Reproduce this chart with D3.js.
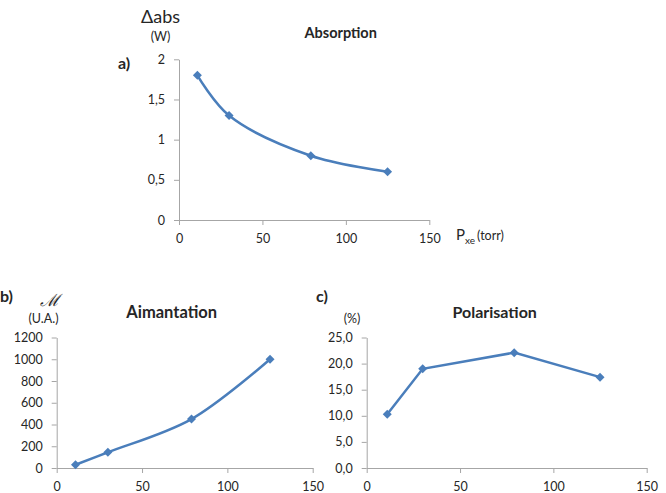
<!DOCTYPE html>
<html>
<head>
<meta charset="utf-8">
<script src="https://cdn.jsdelivr.net/npm/d3@7/dist/d3.min.js"></script>
<style>
  body { margin: 0; background: #fff; }
  text { font-family: Lato, "Open Sans", sans-serif; fill: #262626; }
</style>
</head>
<body>
<svg id="chart" width="666" height="493"></svg>
<script>
// pressure of xenon (torr)
var pressure = [11, 30, 79, 125];
var absorption = [1.8, 1.3, 0.8, 0.6];
var aimantation = [30, 145, 450, 1000];
var polarisation = [10.3, 19.0, 22.1, 17.4];

var xTicks = [0, 50, 100, 150];
var absTicks = [0, 0.5, 1, 1.5, 2];
var aimTicks = [0, 200, 400, 600, 800, 1000, 1200];
var polTicks = [0, 5, 10, 15, 20, 25];

var blue = "#4a7ebb";
var axisColor = "#a6a6a6";

var svg = d3.select("#chart");
svg.append("rect").attr("width", 666).attr("height", 493).attr("fill", "#fff");

function comma(v) { return String(v).replace(".", ","); }
function comma1(v) { return v.toFixed(1).replace(".", ","); }

function draw_panel(opt)
{
    var g = svg.append("g");

    var x = d3.scaleLinear().domain([0, 150]).range([opt.left, opt.right]);
    var y = d3.scaleLinear().domain(opt.ydomain).range([opt.bottom, opt.top]);

    var xa = g.append("g")
        .attr("transform", "translate(0," + opt.bottom + ")")
        .call(d3.axisBottom(x).tickValues(xTicks).tickSize(5).tickSizeOuter(0).tickPadding(opt.xpad));
    var ya = g.append("g")
        .attr("transform", "translate(" + opt.left + ",0)")
        .call(d3.axisLeft(y).tickValues(opt.yticks).tickSize(5).tickSizeOuter(0).tickPadding(9).tickFormat(opt.fmt));

    [xa, ya].forEach(function(a) {
        a.selectAll("path, line").attr("stroke", axisColor);
        a.selectAll("text").style("font-size", "12.5px").attr("fill", "#262626");
        a.attr("font-family", null);
    });

    var line = d3.line()
        .x(function(d) { return x(d[0]); })
        .y(function(d) { return y(d[1]); })
        .curve(opt.smooth ? d3.curveCatmullRom.alpha(0.5) : d3.curveLinear);

    var pts = pressure.map(function(p, i) { return [p, opt.values[i]]; });

    g.append("path").datum(pts)
        .attr("d", line)
        .attr("fill", "none")
        .attr("stroke", blue)
        .attr("stroke-width", 2.5);

    g.selectAll(".pt").data(pts).enter().append("path")
        .attr("class", "pt")
        .attr("d", "M0,-4.5L4.5,0L0,4.5L-4.5,0Z")
        .attr("transform", function(d) { return "translate(" + x(d[0]) + "," + y(d[1]) + ")"; })
        .attr("fill", blue);

    return g;
}

draw_panel({ left: 179, right: 429.3, top: 59.3, bottom: 220, ydomain: [0, 2],
    yticks: absTicks, fmt: comma, values: absorption, smooth: true, xpad: 9 });
draw_panel({ left: 56.7, right: 312.7, top: 337.5, bottom: 468, ydomain: [0, 1200],
    yticks: aimTicks, fmt: d3.format("d"), values: aimantation, smooth: true, xpad: 9 });
draw_panel({ left: 366.7, right: 646.7, top: 337.5, bottom: 468, ydomain: [0, 25],
    yticks: polTicks, fmt: comma1, values: polarisation, smooth: false, xpad: 9 });

// labels
function label(txt, x, y, size, opts)
{
    opts = opts || {};
    var t = svg.append("text")
        .attr("x", x).attr("y", y)
        .style("font-size", size + "px")
        .attr("text-anchor", opts.anchor || "middle")
        .text(txt);
    if (opts.bold) t.style("font-weight", "bold");
    if (opts.family) t.style("font-family", opts.family);
    if (opts.italic) t.style("font-style", "italic");
    return t;
}

label("\u0394abs", 160.5, 23, 18);
label("(W)", 160.5, 41, 12.5);
label("a)", 118, 69, 16, { bold: true, anchor: "start" });
label("Absorption", 340.7, 38, 14.5, { bold: true });

var px = svg.append("text").attr("x", 456).attr("y", 240).style("font-size", "15px");
px.append("tspan").text("P");
px.append("tspan").attr("dy", 4).style("font-size", "10px").text("xe");
px.append("tspan").attr("dy", -4).attr("dx", 2).style("font-size", "12.5px").text("(torr)");

label("b)", 0, 302, 16, { bold: true, anchor: "start" });
label("\u2133", 50, 306, 17, { family: "DejaVu Serif", italic: true });
label("(U.A.)", 43.5, 323, 12.5);
label("Aimantation", 171.7, 318, 16.5, { bold: true });

label("c)", 316, 302, 16, { bold: true, anchor: "start" });
label("(%)", 352, 323, 12.5);
label("Polarisation", 494.7, 318, 16, { bold: true });
</script>
</body>
</html>
